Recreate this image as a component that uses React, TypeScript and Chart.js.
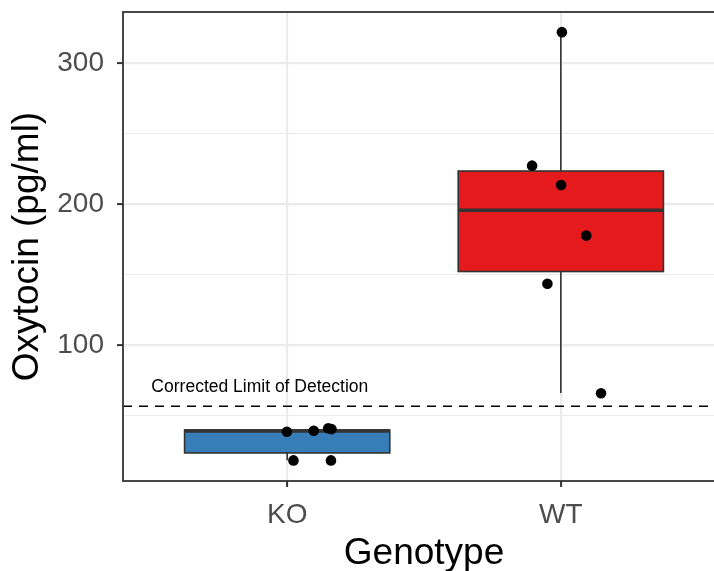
import React, { useEffect, useRef } from 'react';
import { Chart, registerables } from 'chart.js';

Chart.register(...registerables);

const categories = ['KO', 'WT'];
const boxQ1 = [23.7, 152.4];
const boxMedian = [39.3, 195.9];
const boxQ3 = [40.0, 223.7];
const whiskerLow = [18.5, 66.3];
const whiskerHigh = [40.8, 322.2];
const boxColors = ['#377EB8', '#E41A1C'];

const koX = [0.999, 1.097, 1.15, 1.162, 1.023, 1.16];
const koY = [38.7, 39.4, 41.2, 40.6, 18.4, 18.4];
const wtX = [1.895, 2.001, 2.093, 1.951, 2.004, 2.147];
const wtY = [227.5, 213.8, 177.9, 143.7, 322.2, 66.0];

const yTicks = [50, 100, 150, 200, 250, 300];
const yLabelTicks = [100, 200, 300];
const detectionLimit = 56.8;
const detectionLabel = 'Corrected Limit of Detection';
const detectionLabelX = 0.9;
const detectionLabelY = 70.5;

const FONT = '"Liberation Sans", Arial, sans-serif';

const boxPlugin = {
  id: 'boxPlugin',
  beforeDatasetsDraw(chart: any) {
    const { ctx } = chart;
    const x = chart.scales.x;
    const y = chart.scales.y;
    ctx.save();
    categories.forEach((_c, i) => {
      const cx = x.getPixelForValue(i + 1);
      const half = x.getPixelForValue(i + 1 + 0.375) - cx;
      const top = y.getPixelForValue(boxQ3[i]);
      const bot = y.getPixelForValue(boxQ1[i]);
      ctx.strokeStyle = '#333333';
      ctx.lineWidth = 1.6;
      ctx.beginPath();
      ctx.moveTo(cx, y.getPixelForValue(whiskerHigh[i]));
      ctx.lineTo(cx, top);
      ctx.moveTo(cx, bot);
      ctx.lineTo(cx, y.getPixelForValue(whiskerLow[i]));
      ctx.stroke();
      ctx.fillStyle = boxColors[i];
      ctx.fillRect(cx - half, top, 2 * half, bot - top);
      ctx.strokeRect(cx - half, top, 2 * half, bot - top);
      const my = y.getPixelForValue(boxMedian[i]);
      ctx.lineWidth = 3.6;
      ctx.beginPath();
      ctx.moveTo(cx - half, my);
      ctx.lineTo(cx + half, my);
      ctx.stroke();
    });
    ctx.restore();
  },
  afterDatasetsDraw(chart: any) {
    const { ctx, chartArea } = chart;
    const x = chart.scales.x;
    const y = chart.scales.y;
    ctx.save();
    const ly = y.getPixelForValue(detectionLimit);
    ctx.strokeStyle = '#000000';
    ctx.lineWidth = 1.5;
    ctx.setLineDash([9, 7]);
    ctx.beginPath();
    ctx.moveTo(chartArea.left, ly);
    ctx.lineTo(chartArea.right, ly);
    ctx.stroke();
    ctx.setLineDash([]);
    ctx.fillStyle = '#000000';
    ctx.font = `17.5px ${FONT}`;
    ctx.textAlign = 'center';
    ctx.textBaseline = 'middle';
    ctx.fillText(detectionLabel, x.getPixelForValue(detectionLabelX), y.getPixelForValue(detectionLabelY));
    ctx.restore();
  },
  afterDraw(chart: any) {
    const { ctx, chartArea } = chart;
    ctx.save();
    ctx.strokeStyle = '#333333';
    ctx.lineWidth = 1.8;
    ctx.strokeRect(chartArea.left, chartArea.top, chartArea.right - chartArea.left, chartArea.bottom - chartArea.top);
    ctx.restore();
  },
};

export default function App() {
  const ref = useRef<HTMLCanvasElement>(null);
  useEffect(() => {
    if (!ref.current) return;
    const chart = new Chart(ref.current, {
      type: 'scatter',
      data: {
        datasets: [
          {
            label: 'KO',
            data: koX.map((v, i) => ({ x: v, y: koY[i] })),
            backgroundColor: '#000000',
            borderWidth: 0,
            pointRadius: 5.3,
          },
          {
            label: 'WT',
            data: wtX.map((v, i) => ({ x: v, y: wtY[i] })),
            backgroundColor: '#000000',
            borderWidth: 0,
            pointRadius: 5.3,
          },
        ],
      },
      options: {
        responsive: false,
        animation: false,
        devicePixelRatio: 1,
        events: [],
        layout: { padding: { left: 0, top: 12, right: 10, bottom: 0 } },
        plugins: { legend: { display: false }, tooltip: { enabled: false } },
        scales: {
          x: {
            type: 'linear',
            min: 0.4,
            max: 2.6,
            afterBuildTicks: (s: any) => {
              s.ticks = categories.map((_c, i) => ({ value: i + 1 }));
            },
            afterFit: (s: any) => {
              s.height = 90;
              s.paddingLeft = 0;
              s.paddingRight = 0;
            },
            ticks: {
              callback: (v: any) => categories[Math.round(Number(v)) - 1] ?? '',
              color: '#4D4D4D',
              font: { family: FONT, size: 28 },
              padding: 11,
              maxRotation: 0,
              autoSkip: false,
            },
            grid: {
              color: '#EBEBEB',
              lineWidth: 2.2,
              tickColor: '#333333',
              tickWidth: 2,
              tickLength: 6,
            },
            border: { display: false },
            title: {
              display: true,
              text: 'Genotype',
              color: '#000000',
              font: { family: FONT, size: 37, lineHeight: 0.93 },
              padding: { top: 0, bottom: 0 },
            },
          },
          y: {
            type: 'linear',
            min: 3.8,
            max: 336.5,
            afterBuildTicks: (s: any) => {
              s.ticks = yTicks.map((v) => ({ value: v }));
            },
            afterFit: (s: any) => {
              s.width = 123;
              s.paddingTop = 0;
              s.paddingBottom = 0;
            },
            ticks: {
              callback: (v: any) => (yLabelTicks.includes(Number(v)) ? String(v) : ''),
              color: '#4D4D4D',
              font: { family: FONT, size: 28 },
              padding: 13,
              autoSkip: false,
            },
            grid: {
              color: '#EBEBEB',
              lineWidth: (c: any) => (c.tick && yLabelTicks.includes(c.tick.value) ? 2.2 : 1.1),
              tickColor: (c: any) => (c.tick && yLabelTicks.includes(c.tick.value) ? '#333333' : 'rgba(0,0,0,0)'),
              tickWidth: 2,
              tickLength: 6,
            },
            border: { display: false },
            title: {
              display: true,
              text: 'Oxytocin (pg/ml)',
              color: '#000000',
              font: { family: FONT, size: 37, lineHeight: 1 },
              padding: { top: 9.5, bottom: 0 },
            },
          },
        },
      },
      plugins: [boxPlugin],
    } as any);
    return () => chart.destroy();
  }, []);
  return (
    <div style={{ position: 'fixed', left: 0, top: 0, width: 714, height: 571, overflow: 'hidden', background: '#ffffff' }}>
      <canvas ref={ref} width={735} height={571} style={{ display: 'block', width: 735, height: 571 }} />
    </div>
  );
}
